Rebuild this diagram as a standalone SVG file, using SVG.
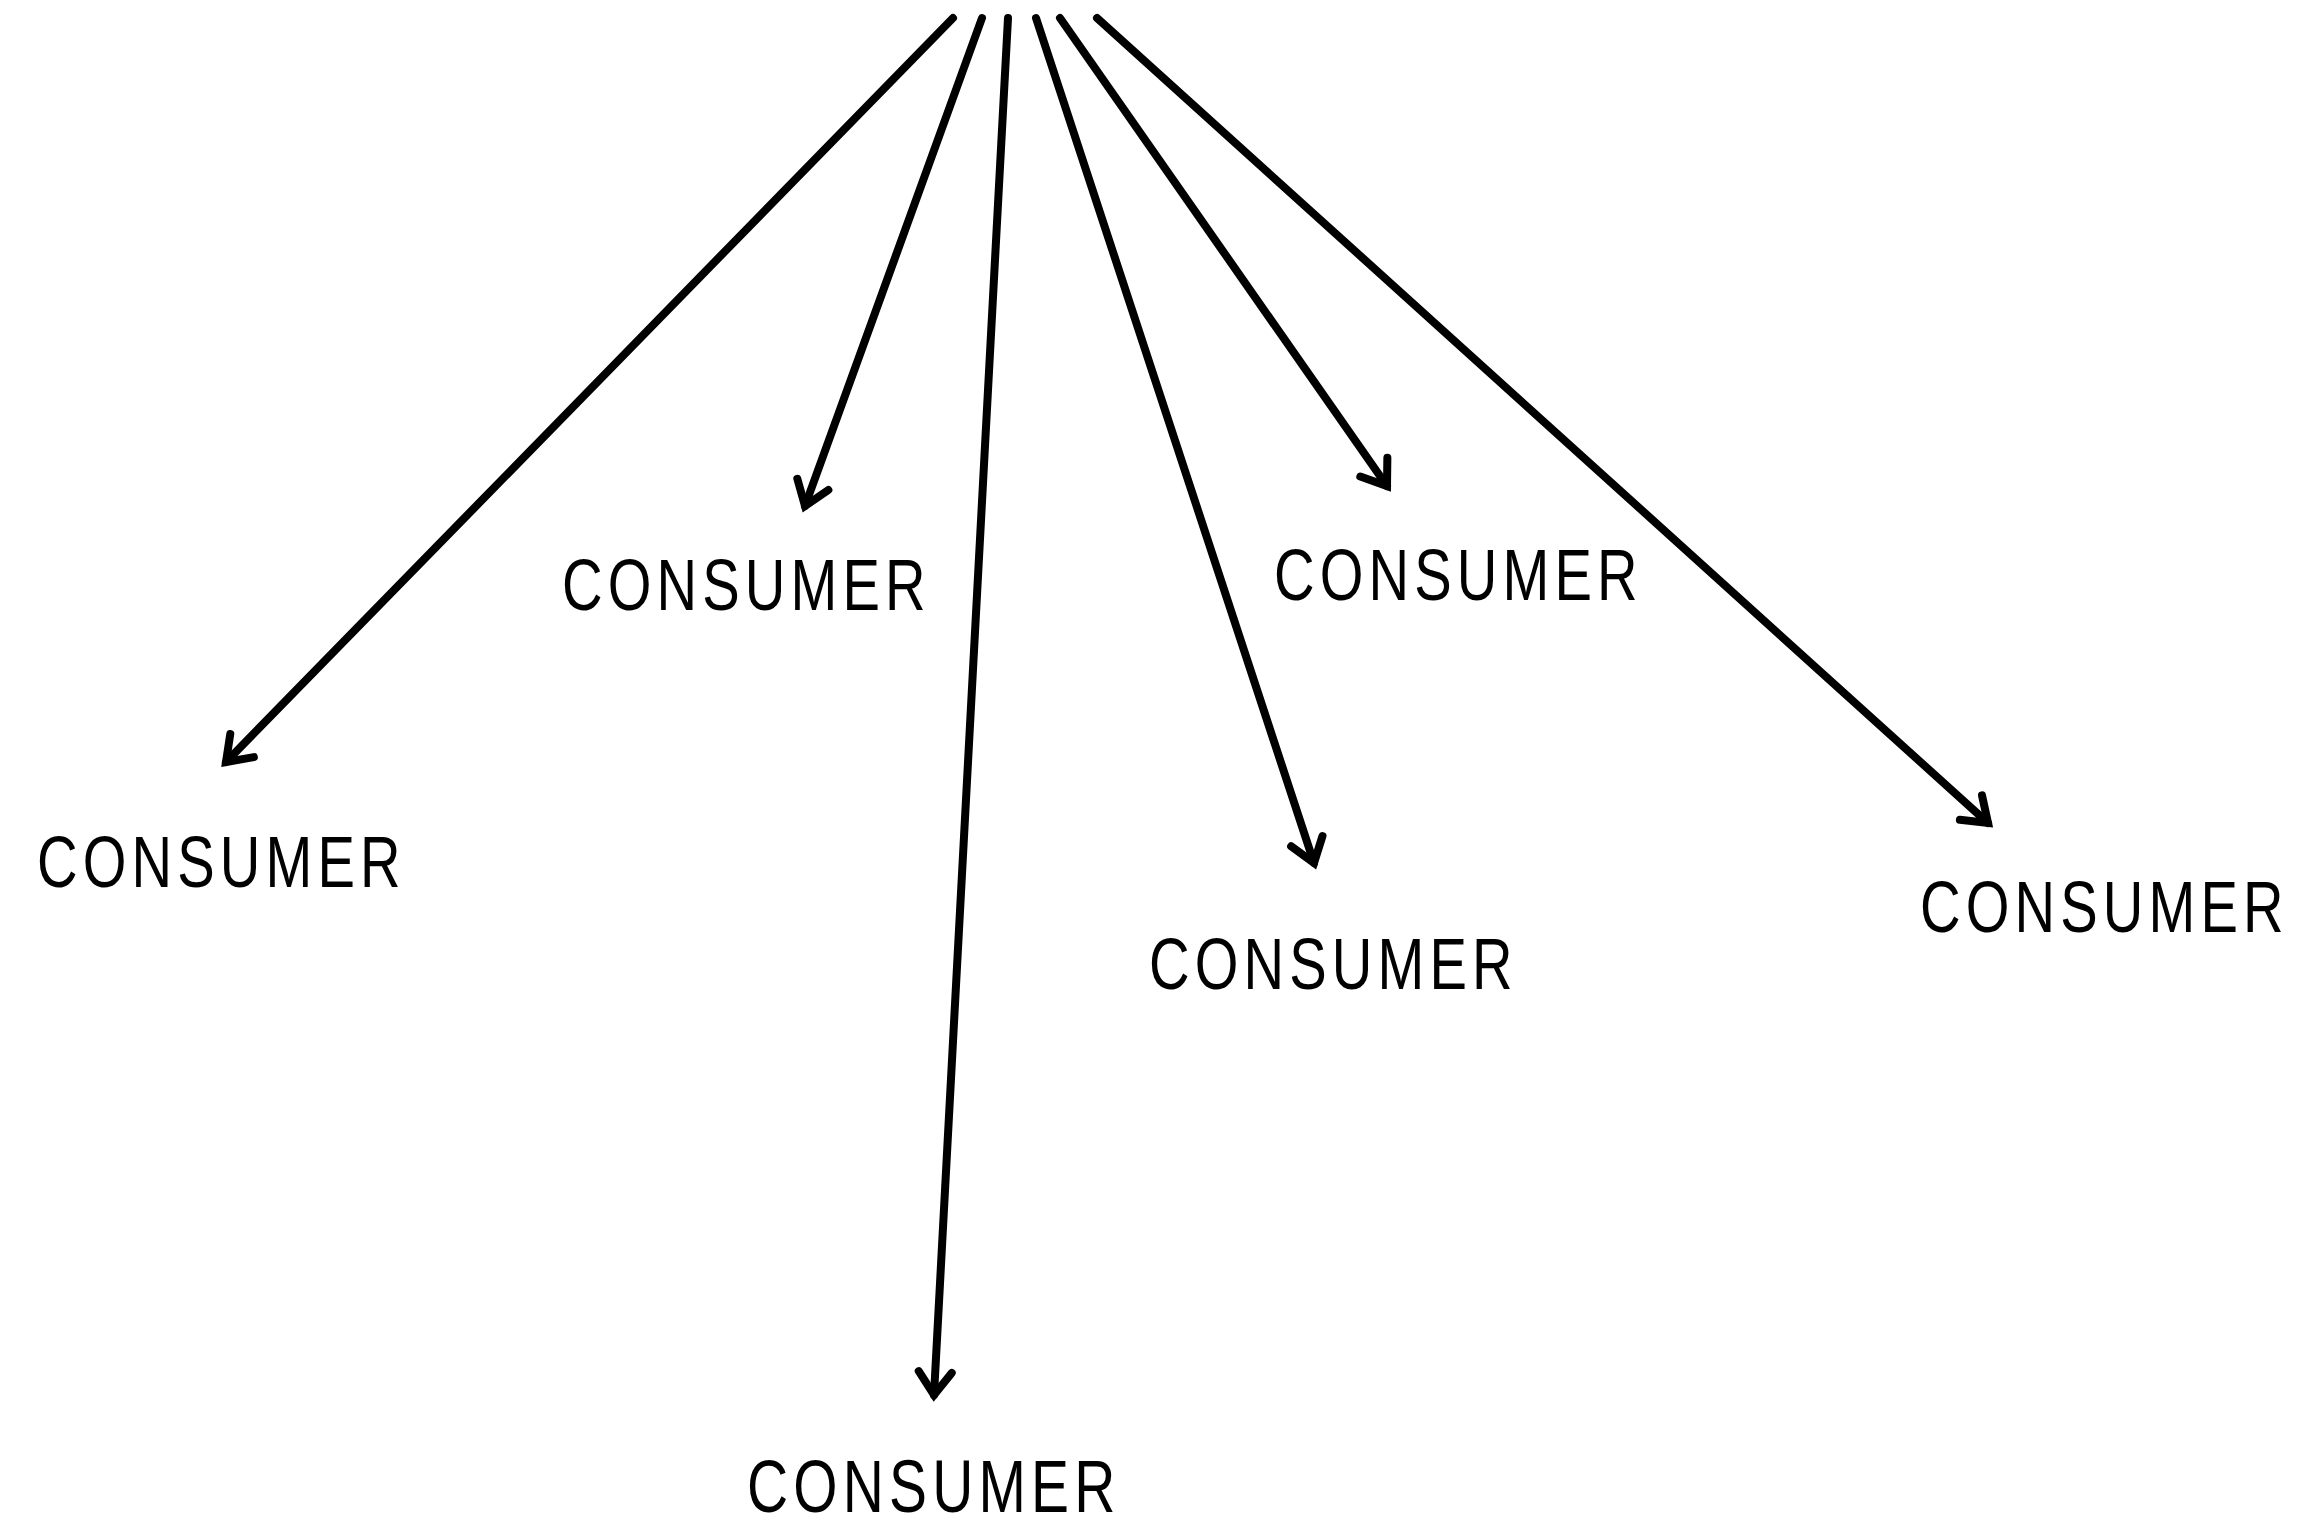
<svg xmlns="http://www.w3.org/2000/svg" width="2305" height="1527" viewBox="0 0 2305 1527">
<style>
.lbl{font-family:"Liberation Sans",Arial,sans-serif;font-size:72px;fill:#000;letter-spacing:6.6px;}
.edge{fill:none;stroke:#000;stroke-width:8;stroke-linecap:round;marker-end:url(#ah);}
</style>
<defs>
<marker id="ah" markerUnits="userSpaceOnUse" orient="auto" overflow="visible" markerWidth="1" markerHeight="1" refX="0" refY="0">
<path d="M-23,-16.5 L0,0 L-23,16.5" fill="none" stroke="#000" stroke-width="8" stroke-linecap="round" stroke-linejoin="miter"/>
</marker>
</defs>
<rect width="2305" height="1527" fill="#fff"/>
<g id="connectors">
<path class="edge" d="M953,18 L226,762"/>
<path class="edge" d="M982,18 L805,506"/>
<path class="edge" d="M1008,18 L934,1395"/>
<path class="edge" d="M1036,18 L1314,863"/>
<path class="edge" d="M1060,18 L1387,486"/>
<path class="edge" d="M1097,18 L1988,823"/>
</g>
<g id="consumer1"><text class="lbl" transform="translate(37,887) scale(0.78,1)">CONSUMER</text></g>
<g id="consumer2"><text class="lbl" transform="translate(562,610) scale(0.78,1)">CONSUMER</text></g>
<g id="consumer3"><text class="lbl" transform="translate(747,1512) scale(0.79,1.02)">CONSUMER</text></g>
<g id="consumer4"><text class="lbl" transform="translate(1149,989) scale(0.78,1)">CONSUMER</text></g>
<g id="consumer5"><text class="lbl" transform="translate(1274,600) scale(0.78,1)">CONSUMER</text></g>
<g id="consumer6"><text class="lbl" transform="translate(1920,932) scale(0.78,1)">CONSUMER</text></g>
</svg>
